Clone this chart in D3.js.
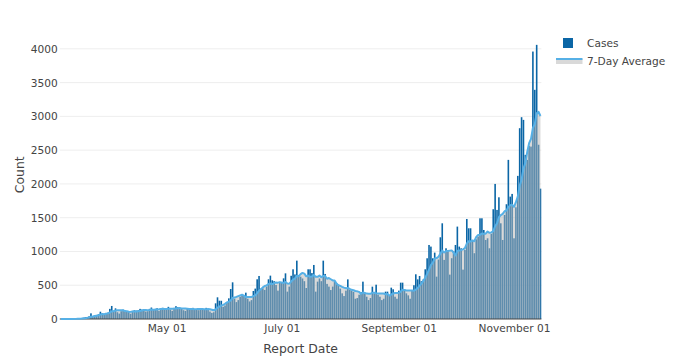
<!DOCTYPE html>
<html>
<head>
<meta charset="utf-8">
<script src="https://cdn.jsdelivr.net/npm/d3@7"></script>
<style>
  body { margin: 0; background: #fff; }
  svg text { font-family: "DejaVu Sans", Verdana, sans-serif; fill: #444; }
</style>
</head>
<body>
<svg id="chart" width="689" height="363"></svg>
<script>
// daily reported cases, one value per day starting at firstDay
var firstDay = "2020-03-06";
var cases = [
    1, 0, 0, 1, 1, 3, 1, 2, 5, 11,
    12, 12, 20, 27, 30, 40, 84, 45, 55, 60,
    70, 108, 85, 75, 90, 95, 150, 193, 120, 158,
    100, 80, 115, 138, 110, 112, 105, 78, 120, 130,
    125, 130, 150, 140, 145, 110, 115, 150, 170, 140,
    150, 160, 120, 145, 165, 150, 155, 180, 140, 120,
    165, 190, 175, 160, 150, 130, 120, 150, 160, 155,
    165, 140, 135, 130, 160, 150, 140, 165, 150, 110,
    90, 100, 232, 321, 271, 270, 180, 200, 250, 306,
    444, 543, 300, 250, 280, 330, 370, 350, 390, 300,
    260, 280, 415, 450, 588, 637, 450, 454, 430, 480,
    588, 642, 573, 560, 503, 420, 538, 540, 602, 676,
    405, 480, 640, 736, 660, 864, 650, 627, 600, 560,
    459, 736, 736, 680, 800, 405, 553, 600, 560, 864,
    667, 520, 480, 429, 480, 560, 530, 508, 450, 380,
    340, 420, 587, 430, 420, 400, 300, 310, 360, 400,
    553, 380, 330, 280, 310, 479, 380, 508, 360, 330,
    280, 300, 405, 405, 350, 464, 440, 330, 300, 420,
    538, 538, 440, 380, 350, 300, 420, 500, 662, 587,
    637, 560, 587, 736, 899, 1096, 1072, 899, 983, 627,
    880, 1210, 1417, 875, 1047, 1000, 657, 900, 1000, 1096,
    1368, 1072, 1047, 731, 1022, 1481, 1343, 1343, 1170, 974,
    1180, 1220, 1491, 1491, 1318, 1170, 1195, 1047, 1259, 1625,
    2000, 1615, 1802, 1417, 1170, 1540, 1699, 2356, 1812, 1852,
    1195, 1654, 2119, 2825, 2988, 2948, 2430, 2356, 2563, 2553,
    3960, 3393, 4059, 2580, 1930
];
var xTickDates = ["2020-05-01", "2020-07-01", "2020-09-01", "2020-11-01"];
var yTicks = [0, 500, 1000, 1500, 2000, 2500, 3000, 3500, 4000];
var seriesNames = ["Cases", "7-Day Average"];

var BAR_COLOR = "#0b66a6";
var LINE_COLOR = "#56b0e6";
var FILL_COLOR = "rgba(180,180,180,0.5)";

var plot = { left: 59.8, right: 541.4, top: 30.6, bottom: 319 };

var parse = d3.utcParse("%Y-%m-%d");
var start = parse(firstDay);
var days = cases.map(function (c, i) { return d3.utcDay.offset(start, i); });

// trailing 7-day mean of the daily counts
var avg7 = cases.map(function (c, i) {
    return d3.mean(cases.slice(Math.max(0, i - 6), i + 1));
});

var x = d3.scaleUtc()
    .domain([d3.utcHour.offset(start, -12), d3.utcHour.offset(days[days.length - 1], 12)])
    .range([plot.left, plot.right]);
var y = d3.scaleLinear()
    .domain([0, d3.max(cases) * 1.052])
    .range([plot.bottom, plot.top]);

var svg = d3.select("#chart");
var dayWidth = x(days[1]) - x(days[0]);
var barWidth = dayWidth * 0.85;

// grid
svg.append("g")
    .selectAll("line")
    .data(yTicks.filter(function (t) { return t > 0; }))
    .enter().append("line")
    .attr("x1", plot.left).attr("x2", plot.right)
    .attr("y1", function (d) { return y(d); })
    .attr("y2", function (d) { return y(d); })
    .style("stroke", "#eee")
    .style("stroke-width", 1);

// y tick labels
var yAxis = svg.append("g")
    .attr("transform", "translate(" + plot.left + ",0)")
    .call(d3.axisLeft(y).tickValues(yTicks).tickSize(0).tickPadding(2).tickFormat(d3.format("d")));
yAxis.select(".domain").remove();
yAxis.selectAll("text").style("font-size", "10.6px").style("fill", "#444");

// x tick labels
var xAxis = svg.append("g")
    .attr("transform", "translate(0," + plot.bottom + ")")
    .call(d3.axisBottom(x).tickValues(xTickDates.map(parse)).tickSize(0).tickPadding(5)
        .tickFormat(d3.utcFormat("%B %d")));
xAxis.select(".domain").remove();
xAxis.selectAll("text").style("font-size", "10.6px").style("fill", "#444");

// bars
svg.append("g")
    .selectAll("rect")
    .data(cases)
    .enter().append("rect")
    .attr("x", function (d, i) { return x(days[i]) - barWidth / 2; })
    .attr("width", barWidth)
    .attr("y", function (d) { return y(d); })
    .attr("height", function (d) { return y(0) - y(d); })
    .style("fill", BAR_COLOR);

// 7-day average fill and line
var area = d3.area()
    .x(function (d, i) { return x(days[i]); })
    .y0(y(0))
    .y1(function (d) { return y(d); });
var line = d3.line()
    .x(function (d, i) { return x(days[i]); })
    .y(function (d) { return y(d); });

svg.append("path")
    .datum(avg7)
    .attr("d", area)
    .style("fill", FILL_COLOR);

svg.append("line")
    .attr("x1", plot.left).attr("x2", plot.right)
    .attr("y1", y(0)).attr("y2", y(0))
    .style("stroke", "#444")
    .style("stroke-width", 1);

svg.append("path")
    .datum(avg7)
    .attr("d", line)
    .style("fill", "none")
    .style("stroke", LINE_COLOR)
    .style("stroke-width", 2)
    .style("stroke-linejoin", "round");

// axis titles
svg.append("text")
    .attr("x", (plot.left + plot.right) / 2)
    .attr("y", 353)
    .attr("text-anchor", "middle")
    .style("font-size", "12.4px")
    .text("Report Date");

svg.append("text")
    .attr("transform", "translate(23.5," + ((plot.top + plot.bottom) / 2) + ") rotate(-90)")
    .attr("text-anchor", "middle")
    .style("font-size", "12.4px")
    .text("Count");

// legend
var legend = svg.append("g").attr("transform", "translate(556,0)");
legend.append("rect")
    .attr("x", 7).attr("y", 38)
    .attr("width", 10).attr("height", 10)
    .style("fill", BAR_COLOR);
legend.append("rect")
    .attr("x", 0).attr("y", 59)
    .attr("width", 26.5).attr("height", 5)
    .style("fill", FILL_COLOR);
legend.append("line")
    .attr("x1", 0).attr("x2", 26.5)
    .attr("y1", 59).attr("y2", 59)
    .style("stroke", LINE_COLOR)
    .style("stroke-width", 2);
legend.selectAll("text.legend-label")
    .data(seriesNames)
    .enter().append("text")
    .attr("class", "legend-label")
    .attr("x", 31)
    .attr("y", function (d, i) { return 47.3 + i * 17.4; })
    .style("font-size", "10.6px")
    .text(function (d) { return d; });
</script>
</body>
</html>
